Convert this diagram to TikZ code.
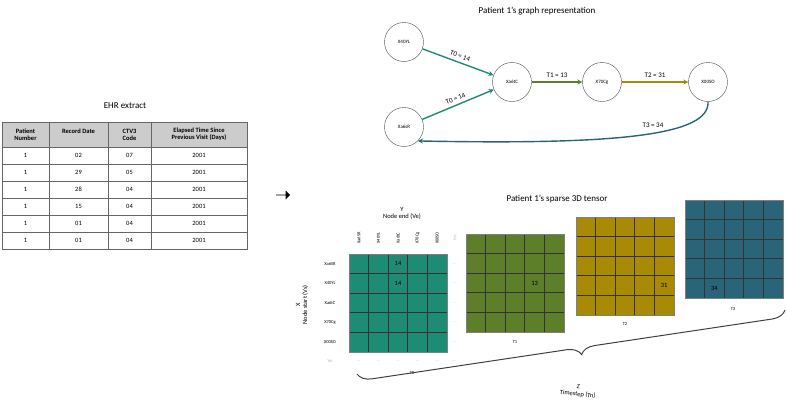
\documentclass[tikz,border=0pt]{standalone}
\usepackage{fontspec}
\setmainfont{Carlito}
\usetikzlibrary{arrows.meta,decorations.pathreplacing,shapes.arrows}
\definecolor{cteal}{HTML}{1E8C74}
\definecolor{cgreen}{HTML}{5E7F2A}
\definecolor{cgold}{HTML}{A88A04}
\definecolor{cblue}{HTML}{2A6479}
\tikzset{
  gnode/.style={circle,draw=black!70,minimum size=39pt,inner sep=0pt,font=\fontsize{5}{6}\selectfont},
  edge/.style={line width=1.4pt,-{Stealth[length=5pt,width=5pt]}},
  elab/.style={font=\fontsize{7}{8}\selectfont},
  tt/.style={font=\fontsize{9}{10}\selectfont},
  small/.style={font=\fontsize{6.5}{7}\selectfont},
  tiny/.style={font=\fontsize{4.5}{5}\selectfont},
  faint/.style={font=\fontsize{4.5}{5}\selectfont,text=black!30},
}
\begin{document}
\begin{tikzpicture}[x=1pt,y=-1pt]
\useasboundingbox (0,0) rectangle (787,413);
% EHR table
\node[tt] (ehrt) at (125,106) {EHR extract};
\fill[black!20] (2,122) rectangle (247,147);
\foreach \y in {147,164,181,198,215,232} \draw[black!60] (2,\y) -- (247,\y);
\draw[black!60] (2,122) rectangle (247,249);
\foreach \x in {49,108,151} \draw[black!60] (\x,122) -- (\x,249);
\node[small,align=center,font=\fontsize{6.5}{7}\selectfont\bfseries] (h1) at (25.5,134.5) {Patient\\Number};
\node[small,align=center,font=\fontsize{6.5}{7}\selectfont\bfseries,anchor=north] (h2) at (78.5,125) {Record Date};
\node[small,align=center,font=\fontsize{6.5}{7}\selectfont\bfseries] (h3) at (129.5,134.5) {CTV3\\Code};
\node[small,align=center,font=\fontsize{6.5}{7}\selectfont\bfseries] (h4) at (199,134.5) {Elapsed Time Since\\Previous Visit (Days)};
\foreach \d/\c/\e [count=\i] in {02/07/2001/Xa6sR/0,29/05/2001/X00SO/34,28/04/2001/X70Cg/31,15/04/2001/Xa6tC/13,01/04/2001/Xa6sR/14,01/04/2001/X40YL/14}{
  \node[small] (r\i a) at (25.5,147+17*\i-8.5) {1};
  \node[small] (r\i b) at (78.5,147+17*\i-8.5) {\d};
  \node[small] (r\i c) at (129.5,147+17*\i-8.5) {\c};
  \node[small] (r\i d) at (199,147+17*\i-8.5) {\e};
}
% arrow
\node[single arrow,fill=black,minimum height=14pt,minimum width=9pt,single arrow head extend=2pt,inner sep=0pt] (bigarrow) at (283,195) {};
% graph
\node[tt] (gtitle) at (537,11) {Patient 1’s graph representation};
\node[gnode] (n1) at (404,42) {X40YL};
\node[gnode] (n2) at (404,127) {Xa6sR};
\node[gnode] (n3) at (512,82) {Xa6tC};
\node[gnode] (n4) at (602,82) {X70Cg};
\node[gnode] (n5) at (708,82) {X00SO};
\draw[edge,cteal] (n1) -- node[elab,sloped,above,text=black] {T0 = 14} (n3);
\draw[edge,cteal] (n2) -- node[elab,sloped,above,text=black] {T0 = 14} (n3);
\draw[edge,cgreen] (n3) -- node[elab,above,text=black] {T1 = 13} (n4);
\draw[edge,cgold] (n4) -- node[elab,above,text=black] {T2 = 31} (n5);
\draw[edge,cblue] (n5.south) .. controls (710,135) and (620,145) .. node[elab,above,pos=0.45,text=black,yshift=2pt] {T3 = 34} (n2.south east);
% tensor
\node[tt] (ttitle) at (557,199) {Patient 1’s sparse 3D tensor};
\def\cs{19.6}
\foreach \nm/\x/\y/\col/\lx/\ly in {g0/349/254/cteal/412/373,g1/466/234/cgreen/515/342,g2/576/217/cgold/625/324,g3/685/200/cblue/733/309}{
  \fill[\col] (\x,\y) rectangle ++(98,98);
  \foreach \k in {1,...,4}{
    \draw[black!80,line width=0.7pt] (\x+\k*\cs,\y) -- ++(0,98);
    \draw[black!80,line width=0.7pt] (\x,\y+\k*\cs) -- ++(98,0);
  }
  \draw[black!50] (\x,\y) rectangle ++(98,98);
}
\node[tiny] (t0l) at (412,373) {T0};
\node[tiny] (t1l) at (515,342) {T1};
\node[tiny] (t2l) at (625,324) {T2};
\node[tiny] (t3l) at (733,309) {T3};
\node[small] (v1) at (349+2.5*\cs,254+0.5*\cs) {14};
\node[small] (v2) at (349+2.5*\cs,254+1.5*\cs) {14};
\node[small] (v3) at (466+3.5*\cs,234+2.5*\cs) {13};
\node[small] (v4) at (576+4.5*\cs,217+3.5*\cs) {31};
\node[small] (v5) at (685+1.5*\cs,200+4.5*\cs) {34};
\foreach \lab [count=\i] in {Xa6SR,X40YL,Xa6tC,X70Cg,X00SO}{
  \node[tiny] (rl\i) at (330,254+\i*\cs-0.5*\cs) {\lab};
  \node[tiny,rotate=90] (cl\i) at (349+\i*\cs-0.5*\cs,238) {\lab};
  \node[faint] (rd\i) at (454,254+\i*\cs-0.5*\cs) {...};
  \node[faint] (cd\i) at (349+\i*\cs-0.5*\cs,361) {...};
}
\node[faint] (vnr) at (330,361) {Vn};
\node[faint,rotate=90] (vnc) at (455,238) {Vn};
\node[faint] (vnd) at (454,361) {...};
\node[small,align=center] (ylab) at (402,213) {Y\\Node end (Ve)};
\node[small,align=center,rotate=90] (xlab) at (302,305) {X\\Node start (Vs)};
\draw[black!75,line width=1pt,decorate,decoration={brace,amplitude=14pt,mirror,aspect=0.52}] (357,374) -- (785,310);
\node[small,align=center,rotate=-6] (zlab) at (578,391) {Z\\Timestep (Tn)};
\end{tikzpicture}
\end{document}
